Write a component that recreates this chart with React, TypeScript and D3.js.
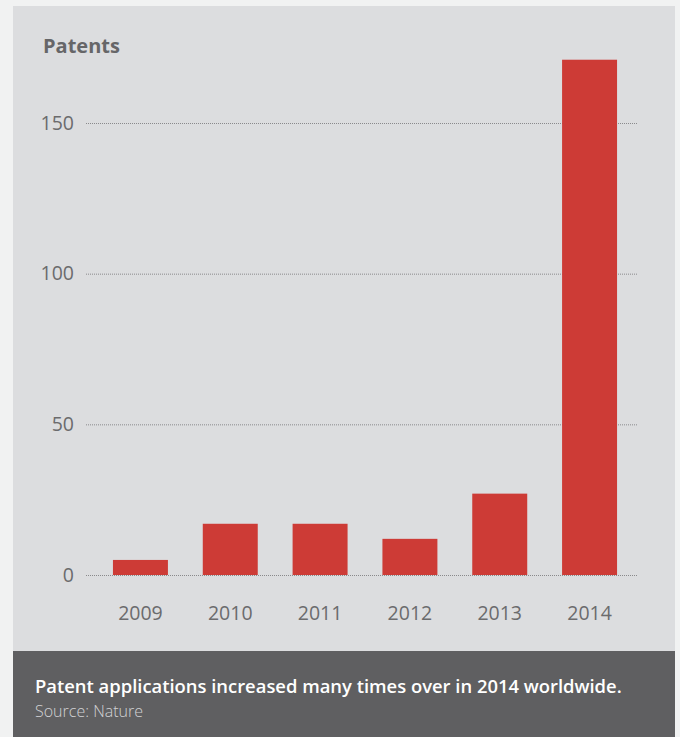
import React from "react";
import * as d3 from "d3";

const years = ["2009", "2010", "2011", "2012", "2013", "2014"];
const patents = [5, 17, 17, 12, 27, 171];
const yTicks = [0, 50, 100, 150];
const title = "Patents";
const caption = "Patent applications increased many times over in 2014 worldwide.";
const source = "Source: Nature";

export default function App() {
  const W = 680, H = 737;
  const y = d3.scaleLinear().domain([0, 150]).range([575, 123]);
  const x = d3.scaleBand<string>().domain(years).range([86, 644]).paddingInner(0.388).paddingOuter(0.3);
  const font = "'Open Sans', sans-serif";
  return (
    <svg width={W} height={H} style={{ position: "absolute", left: 0, top: 0, display: "block" }}>
      <rect x={0} y={0} width={W} height={H} fill="#f1f2f2" />
      <rect x={13} y={6} width={662} height={645} fill="#dcdddf" />
      <rect x={13} y={651} width={662} height={86} fill="#5f5f61" />
      <text x={43} y={53} fontFamily={font} fontWeight={700} fontSize={20} fill="#666668">{title}</text>
      {yTicks.map((t) => (
        <g key={t}>
          <line x1={86} x2={637} y1={y(t) + 0.5} y2={y(t) + 0.5} stroke="#8a8a8c" strokeWidth={1} strokeDasharray="1 1" />
          <text x={74} y={y(t)} dy="0.35em" textAnchor="end" fontFamily={font} fontSize={19.5} fill="#6b6b6d">{t}</text>
        </g>
      ))}
      {years.map((yr, i) => (
        <g key={yr}>
          <rect x={x(yr)} y={y(patents[i])} width={x.bandwidth()} height={y(0) - y(patents[i])} fill="#cd3b36" />
          <text x={(x(yr) as number) + x.bandwidth() / 2} y={613} dy="0.35em" textAnchor="middle" fontFamily={font} fontSize={19.5} fill="#6b6b6d">{yr}</text>
        </g>
      ))}
      <text x={35} y={693} fontFamily={font} fontWeight={600} fontSize={18.4} fill="#ffffff">{caption}</text>
      <text x={35} y={717} fontFamily={font} fontWeight={300} fontSize={16} fill="#d2d2d4">{source}</text>
    </svg>
  );
}
